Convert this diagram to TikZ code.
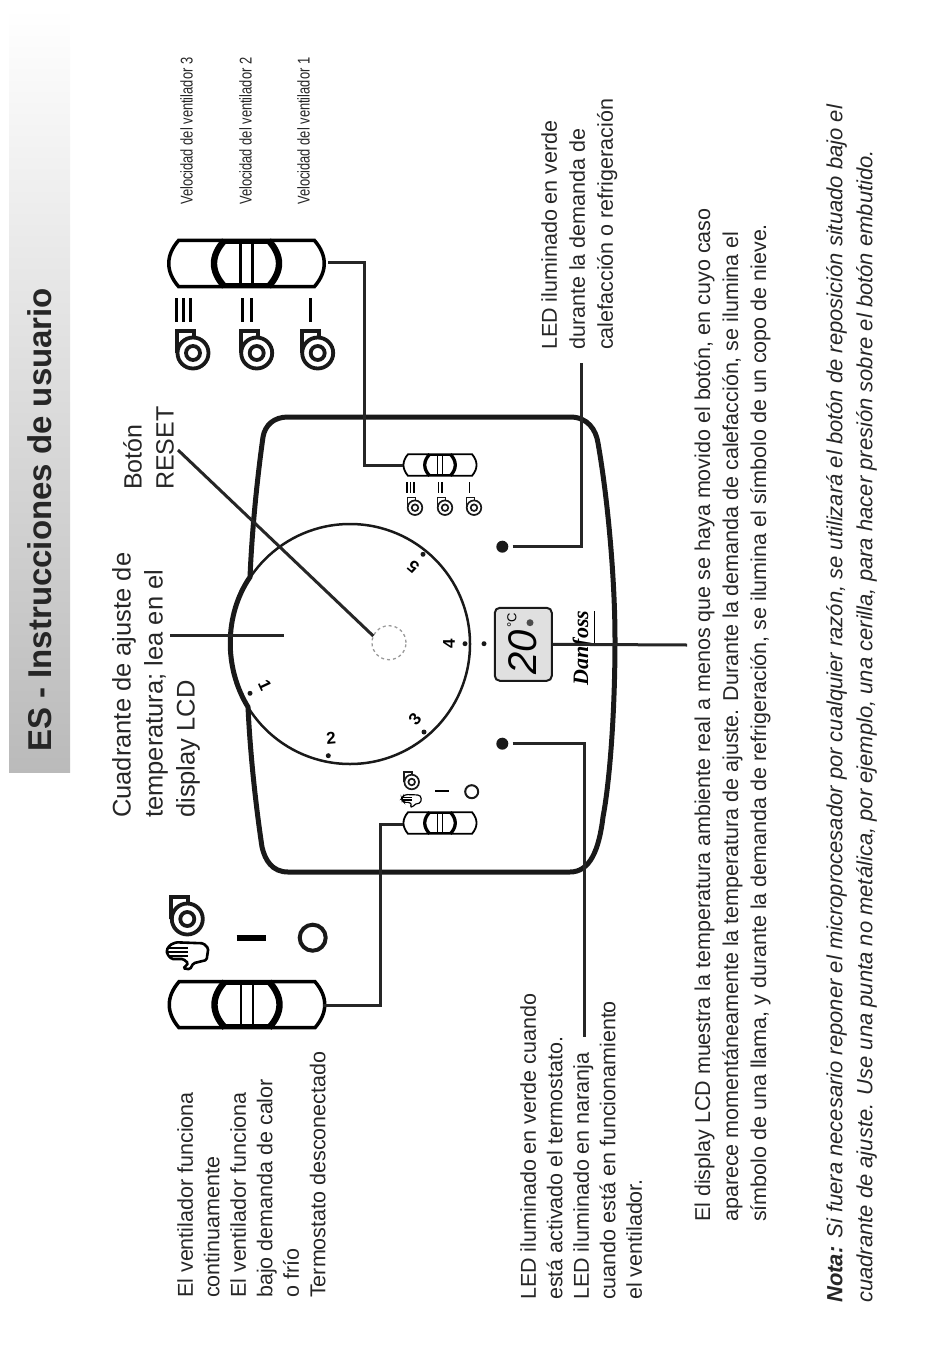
\documentclass[tikz,border=0pt]{standalone}
\usepackage{fontspec}
\setmainfont{Liberation Sans}
\newfontfamily\logofont{Liberation Serif}
\tikzset{
      bodytext/.style={
        rotate=90,
        anchor=north west,
        inner sep=0pt,
        align=left,
        text=black!85,
        font=\fontsize{21.5}{28}\selectfont
      },
      speedtext/.style={
        rotate=90,
        xscale=0.76,
        anchor=north west,
        inner sep=0pt,
        text=black!85,
        font=\fontsize{17}{18}\selectfont
      },
      dialnum/.style={
        inner sep=0pt,
        font=\fontsize{17}{17}\selectfont\bfseries
      },
      leader/.style={line width=3pt,color=black!85},
      leddot/.style={circle,fill=black!90,inner sep=0pt,minimum size=12pt},
      markdot/.style={circle,fill=black!90,inner sep=0pt,minimum size=5pt},
      slider/.pic={
        \draw (-68,-23) -- (68,-23) .. controls (81,-8) and (81,8) .. (68,23) -- (-68,23) .. controls (-81,8) and (-81,-8) .. (-68,-23) -- cycle;
        \draw[line width=1.35*\pgflinewidth] (-22,-23) .. controls (-36,-8) and (-36,8) .. (-22,23);
        \draw[line width=1.35*\pgflinewidth] (22,-23) .. controls (36,-8) and (36,8) .. (22,23);
        \draw (-22,-21.5) -- (22,-21.5) (-22,21.5) -- (22,21.5);
        \draw[line width=0.85*\pgflinewidth] (-6,-23) -- (-6,23) (6,-23) -- (6,23);
      },
      fanicon/.pic={
        \draw (-16,0) -- (-16,-22) -- (1,-22) -- (1,-15);
        \draw[fill=white] (0,0) circle (15.5);
        \draw (0,0) circle (7);
      },
      handicon/.pic={
        \draw[fill=white,rounded corners=1.5pt] (-18.3,-10) -- (-12.3,-12.7) -- (15,-11.7) -- (20,-6.7) -- (18.3,5) -- (5,8.3) -- (1.7,14.3) -- (-5,13.3) -- (0,8.3) -- (-5,4) -- (-16.7,4) -- (-21,-0.7) -- (-21.7,-5) -- cycle;
        \draw[line width=0.8*\pgflinewidth] (-19,-7.3) -- (0,-7.3) (-20,-3.3) -- (0,-3.3) (-19,0.7) -- (0,0.7);
      }
    }

\begin{document}
\begin{tikzpicture}[x=1pt,y=-1pt]
    \useasboundingbox (0,0) rectangle (950,1356);
    \shade[top color=white,bottom color=black!27] (9,8) rectangle (70,772);
    \node[bodytext,font=\fontsize{33}{36}\selectfont\bfseries] (title) at (27,752) {ES - Instrucciones de usuario};

    \node[bodytext,font=\fontsize{25.5}{32}\selectfont] (dialtext) at (112,818) {Cuadrante de ajuste de\\temperatura; lea en el\\display LCD};
    \node[bodytext,font=\fontsize{25}{32}\selectfont] (resettext) at (123,490) {Botón\\RESET};
    \node[speedtext] (speed3) at (180,205) {Velocidad del ventilador 3};
    \node[speedtext] (speed2) at (239,205) {Velocidad del ventilador 2};
    \node[speedtext] (speed1) at (297,205) {Velocidad del ventilador 1};
    \node[bodytext] (ledright) at (541,350) {LED iluminado en verde\\durante la demanda de\\calefacción o refrigeración};
    \node[bodytext,font=\fontsize{21.5}{26.5}\selectfont] (modetext) at (177,1298) {El ventilador funciona\\continuamente\\El ventilador funciona\\bajo demanda de calor\\o frío\\Termostato desconectado};
    \node[bodytext,font=\fontsize{21.5}{26.5}\selectfont] (ledleft) at (520,1300) {LED iluminado en verde cuando\\está activado el termostato.\\LED iluminado en naranja\\cuando está en funcionamiento\\el ventilador.};
    \node[bodytext] (lcdtext) at (694,1222) {El display LCD muestra la temperatura ambiente real a menos que se haya movido el botón, en cuyo caso\\aparece momentáneamente la temperatura de ajuste. Durante la demanda de calefacción, se ilumina el\\símbolo de una llama, y durante la demanda de refrigeración, se ilumina el símbolo de un copo de nieve.};
    \node[bodytext,font=\fontsize{22}{30}\selectfont\itshape] (note) at (826,1303) {\textbf{Nota:} Si fuera necesario reponer el microprocesador por cualquier razón, se utilizará el botón de reposición situado bajo el\\cuadrante de ajuste. Use una punta no metálica, por ejemplo, una cerilla, para hacer presión sobre el botón embutido.};

    \draw[line width=5pt,color=black!90] (288,417) -- (570,417) .. controls (588,417) and (596,430) .. (598,443) .. controls (608,500) and (615,580) .. (615,640) .. controls (615,710) and (610,780) .. (603,817) .. controls (599,850) and (590,872) .. (570,872) -- (288,872) .. controls (272,872) and (265,860) .. (262,847) .. controls (255,800) and (250,750) .. (248,707) .. controls (224,668) and (224,615) .. (250,577) .. controls (252,530) and (257,480) .. (263,437) .. controls (265,425) and (274,417) .. (288,417) -- cycle;
    \node[circle,draw=black!90,line width=2.5pt,inner sep=0pt,minimum size=240pt] (dial) at (350,644) {};
    \node[circle,draw=black!40,dashed,line width=1.3pt,inner sep=0pt,minimum size=34pt] (reset) at (389,642.7) {};

    \node[markdot] (mark1) at (250,693.3) {};
    \node[markdot] (mark2) at (328.3,755.7) {};
    \node[markdot] (mark3) at (424,732) {};
    \node[markdot] (mark4) at (465,643.7) {};
    \node[markdot] (mark5) at (423,554.3) {};
    \node[markdot] (markout) at (484,643.7) {};
    \node[dialnum,rotate=-65] (num1) at (265,685.7) {1};
    \node[dialnum,rotate=5] (num2) at (331,738.3) {2};
    \node[dialnum,rotate=50] (num3) at (415,719) {3};
    \node[dialnum,rotate=90] (num4) at (449,643.3) {4};
    \node[dialnum,rotate=140] (num5) at (413.3,567.3) {5};

    \node[leddot] (ledup) at (502.3,546.7) {};
    \node[leddot] (leddown) at (502.3,743.7) {};

    \node[draw=black!90,fill=black!12,rounded corners=5pt,line width=2pt,minimum width=57pt,minimum height=73pt,inner sep=0pt] (lcd) at (523.3,644.3) {};
    \node[rotate=90,inner sep=0pt,font=\fontsize{40}{40}\selectfont\itshape] (lcdtemp) at (523,652) {20};
    \node[rotate=90,inner sep=0pt,font=\fontsize{13}{13}\selectfont] (lcdunit) at (512,620) {°C};
    \node[circle,fill=black!70,inner sep=0pt,minimum size=7pt] (flame) at (530,622.7) {};
    \node[rotate=90,anchor=base,inner sep=0pt,font=\fontsize{22}{22}\logofont\itshape\bfseries] (logo) at (588,648) {Dan\underline{foss}};

    \pic[line width=3.5pt] at (246.5,263.5) {slider};
    \pic[line width=3.5pt] at (247,1004.7) {slider};
    \pic[scale=0.47,line width=1.8pt] at (440,465) {slider};
    \pic[scale=0.47,line width=1.8pt] at (440,823) {slider};

    \foreach \fx/\fy in {193/353,256.7/353,317.7/353,187.3/919}
        \pic[line width=3.8pt,color=black!90] at (\fx,\fy) {fanicon};
    \foreach \fx/\fy in {415/507.7,445/507.7,474/507.7,411.7/782}
        \pic[scale=0.47,line width=1.7pt,color=black!90] at (\fx,\fy) {fanicon};
    \pic[line width=2.6pt] at (188.3,955) {handicon};
    \pic[scale=0.47,line width=1.2pt] at (412,800.5) {handicon};

    \draw[line width=3pt] (176.7,298) -- (176.7,322) (183.3,298) -- (183.3,322) (190,298) -- (190,322);
    \draw[line width=3pt] (242.7,298) -- (242.7,322) (251,298) -- (251,322);
    \draw[line width=3pt] (310,298) -- (310,322);
    \draw[line width=1.5pt] (407,482) -- (407,493) (410.7,482) -- (410.7,493) (414,482) -- (414,493);
    \draw[line width=1.5pt] (438.5,482) -- (438.5,493) (442,482) -- (442,493);
    \draw[line width=1.5pt] (469.7,482) -- (469.7,493);
    \draw[line width=6pt] (236.7,937.7) -- (265.7,937.7);
    \draw[line width=2.5pt] (435,791) -- (449,791);
    \node[circle,draw=black!90,line width=4pt,inner sep=0pt,minimum size=26pt] (offbig) at (312.7,937.7) {};
    \node[circle,draw=black!90,line width=2pt,inner sep=0pt,minimum size=13pt] (offsmall) at (471.7,791.7) {};

    \coordinate (dialend) at (170,635.5);
    \coordinate (dialin) at (284,635.5);
    \coordinate (resetend) at (178,450);
    \coordinate (resetin) at (373.3,636);
    \coordinate (speedup) at (328,262);
    \coordinate (speedin) at (403,465);
    \coordinate (modeup) at (323,1005);
    \coordinate (modein) at (403,824);
    \coordinate (ledupend) at (581.5,363);
    \coordinate (leddownend) at (584.5,1037);
    \coordinate (lcdend) at (687,645);

    \draw[leader] (dialend) -- (dialin);
    \draw[leader] (resetend) -- (resetin);
    \draw[leader] (speedup) -- (364,262) -- (364,465) -- (speedin);
    \draw[leader] (modeup) -- (380,1005) -- (380,824) -- (modein);
    \draw[leader] (ledup.east) ++(4,0) -- (581.5,546.7) -- (ledupend);
    \draw[leader] (leddown.east) ++(4,0) -- (584.5,743.7) -- (leddownend);
    \draw[leader] (lcd.east) -- (lcdend);
    \end{tikzpicture}
\end{document}
